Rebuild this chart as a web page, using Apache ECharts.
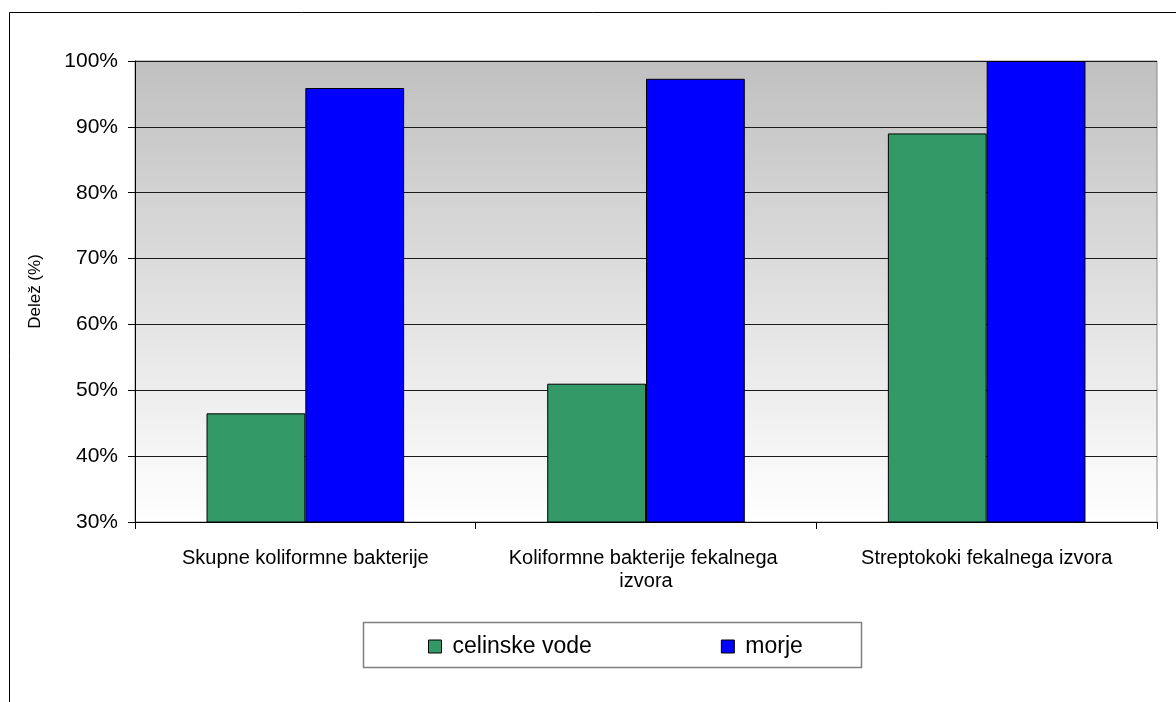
<!DOCTYPE html>
<html>
<head>
<meta charset="utf-8">
<script src="https://cdn.jsdelivr.net/npm/echarts@6/dist/echarts.min.js"></script>
<style>
  html, body { margin: 0; padding: 0; background: #ffffff; }
  #chart { width: 1176px; height: 702px; }
</style>
</head>
<body>
<div id="chart"></div>
<script>
// Bacteria groups on the category axis
const categories = [
  'Skupne koliformne bakterije',
  'Koliformne bakterije fekalnega izvora',
  'Streptokoki fekalnega izvora'
];
// Share (%) per water type
const celinskeVode = [46.5, 51.0, 89.0];
const morje = [95.9, 97.3, 100.0];
const seriesNames = ['celinske vode', 'morje'];
// Value axis range and step (%)
const yMin = 30, yMax = 100, yStep = 10;

const FONT = '"Liberation Sans", Arial, sans-serif';
const chart = echarts.init(document.getElementById('chart'), null, { renderer: 'canvas' });

chart.setOption({
  animation: false,
  backgroundColor: '#ffffff',
  textStyle: { fontFamily: FONT },
  graphic: [
    {
      type: 'rect', z: 0, silent: true,
      shape: { x: 9.5, y: 12.5, width: 1200, height: 800 },
      style: { fill: 'none', stroke: '#000000', lineWidth: 1 }
    },
    {
      type: 'rect', z: 1, silent: true,
      shape: { x: 363.5, y: 622.5, width: 498, height: 45 },
      style: { fill: '#ffffff', stroke: '#7f7f7f', lineWidth: 1.5 }
    }
  ],
  grid: {
    left: 135, right: 19, top: 61, bottom: 180,
    show: true,
    borderColor: '#8a8a8a', borderWidth: 1,
    backgroundColor: new echarts.graphic.LinearGradient(0, 0, 0, 1, [
      { offset: 0, color: '#c0c0c0' },
      { offset: 1, color: '#ffffff' }
    ])
  },
  legend: {
    data: seriesNames,
    left: 428, top: 635,
    padding: 0,
    itemWidth: 13, itemHeight: 13,
    itemGap: 129,
    icon: 'rect',
    z: 5,
    textStyle: { fontFamily: FONT, fontSize: 23, color: '#000000', padding: [0, 0, 0, 6] },
    itemStyle: { borderColor: '#000000', borderWidth: 1 }
  },
  xAxis: {
    type: 'category',
    data: categories,
    axisLine: { lineStyle: { color: '#000000', width: 1 } },
    axisTick: { show: true, length: 7, lineStyle: { color: '#000000' } },
    axisLabel: {
      interval: 0,
      margin: 25,
      fontFamily: FONT, fontSize: 20, color: '#000000',
      lineHeight: 23,
      width: 300, overflow: 'break'
    },
    splitLine: { show: false }
  },
  yAxis: {
    type: 'value',
    min: yMin, max: yMax, interval: yStep,
    name: 'Delež (%)',
    nameLocation: 'middle',
    nameGap: 91,
    nameRotate: 90,
    nameTextStyle: { fontFamily: FONT, fontSize: 17, color: '#000000' },
    axisLine: { show: true, lineStyle: { color: '#000000', width: 1 } },
    axisTick: { show: true, length: 7, lineStyle: { color: '#000000' } },
    axisLabel: {
      formatter: '{value}%',
      margin: 17,
      fontFamily: FONT, fontSize: 21, color: '#000000'
    },
    splitLine: { show: true, lineStyle: { color: '#1a1a1a', width: 1 } }
  },
  series: [
    {
      name: seriesNames[0],
      type: 'bar',
      data: celinskeVode,
      barGap: '0%',
      barCategoryGap: '42%',
      itemStyle: { color: '#339966', borderColor: '#000000', borderWidth: 1 }
    },
    {
      name: seriesNames[1],
      type: 'bar',
      data: morje,
      itemStyle: { color: '#0000ff', borderColor: '#000000', borderWidth: 1 }
    }
  ]
});
</script>
</body>
</html>
